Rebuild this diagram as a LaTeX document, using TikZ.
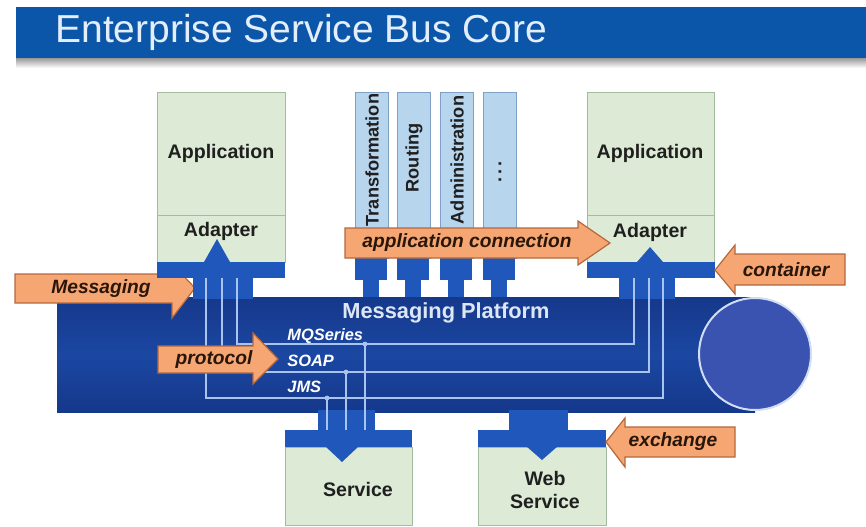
\documentclass[tikz,border=0pt]{standalone}
\usepackage{fontspec}
\setmainfont{Liberation Sans}
\usetikzlibrary{positioning,calc}
\definecolor{titleblue}{HTML}{0B56A8}
\definecolor{titletext}{HTML}{E4EEFA}
\definecolor{boxgreen}{HTML}{DDEBD6}
\definecolor{boxline}{HTML}{A4BBA0}
\definecolor{funcblue}{HTML}{B8D5EE}
\definecolor{funcline}{HTML}{7F9FC5}
\definecolor{barblue}{HTML}{1F58BA}
\definecolor{busdark}{HTML}{15388A}
\definecolor{buslight}{HTML}{1B47A2}
\definecolor{capblue}{HTML}{3B53B0}
\definecolor{capline}{HTML}{D0DDF5}
\definecolor{arrowfill}{HTML}{F5A673}
\definecolor{arrowline}{HTML}{B5683C}
\definecolor{arrowtext}{HTML}{2A1608}
\definecolor{protoline}{HTML}{A9C4EE}
\definecolor{bustext}{HTML}{DCE6F5}
\tikzset{
  greenbox/.style={draw=boxline,fill=boxgreen,line width=0.5pt},
  funcbox/.style={draw=funcline,fill=funcblue,line width=0.5pt},
  connbar/.style={fill=barblue},
  blockarrow/.style={draw=arrowline,fill=arrowfill,line width=0.6pt},
  boxlabel/.style={font=\fontsize{9.8}{11}\selectfont\bfseries,text=black!88},
  arrowlabel/.style={font=\fontsize{9.6}{11}\selectfont\bfseries\itshape,text=arrowtext},
  protolabel/.style={font=\fontsize{8.2}{9}\selectfont\bfseries\itshape,text=white,anchor=west,inner sep=0pt},
  protowire/.style={draw=protoline,line width=0.7pt},
}
\begin{document}
\begin{tikzpicture}[x=0.5pt,y=-0.5pt]
	\useasboundingbox (0,0) rectangle (866,526);
	\fill[white] (0,0) rectangle (866,526);
	\fill[titleblue] (16,7) rectangle (866,58);
	\shade[top color=black!40,bottom color=white] (16,58) rectangle (866,68);
	\node[anchor=base west,inner sep=0pt,text=titletext,font=\fontsize{19.5}{22}\selectfont] (title) at (55,42) {Enterprise Service Bus Core};

	\draw[greenbox] (157,92) rectangle (285,262);
	\draw[boxline,line width=0.5pt] (157,215) -- (285,215);
	\draw[greenbox] (587,92) rectangle (714,262);
	\draw[boxline,line width=0.5pt] (587,215) -- (714,215);

	\foreach \x/\name/\txt/\y in {355/tra/Transformation/160,397/rou/Routing/158,440/adm/Administration/160,483/etc/{.\,.\,.}/172} {
		\draw[funcbox] (\x,92) rectangle ++(33,166);
		\fill[connbar] (\x,255) rectangle ++(32,25);
		\fill[connbar] (\x+8,279) rectangle ++(16,21);
		\node[boxlabel,font=\fontsize{9.1}{11}\selectfont\bfseries,rotate=90] (\name) at (\x+17,\y) {\txt};
	}

	\shade[top color=busdark,bottom color=busdark,middle color=buslight] (57,297) rectangle (755,412);
	\draw[fill=capblue,draw=capline,line width=1pt] (755,354) circle[radius=56];

	\draw[blockarrow] (15,274) -- (172,274) -- (172,264) -- (195,288) -- (172,318) -- (172,303) -- (15,303) -- cycle;
	\node[arrowlabel] (msg) at (101,289) {Messaging};

	\fill[connbar] (193,277) rectangle (253,299);
	\fill[connbar] (619,277) rectangle (675,299);
	\fill[connbar] (318,410) rectangle (375,431);
	\fill[connbar] (509,410) rectangle (568,431);

	\coordinate (mqa) at (237,278);
	\coordinate (mqb) at (634,278);
	\coordinate (mqdot) at (365,344);
	\coordinate (soa) at (222,278);
	\coordinate (sob) at (649,278);
	\coordinate (soapdot) at (346,372);
	\coordinate (jma) at (206,278);
	\coordinate (jmb) at (663,278);
	\coordinate (jmsdot) at (327,398);
	\coordinate (svctop) at (346,431);
	\draw[protowire] (mqa) |- (mqdot) -| (mqb);
	\draw[protowire] (soa) |- (soapdot) -| (sob);
	\draw[protowire] (jma) |- (jmsdot) -| (jmb);
	\foreach \p in {mqdot,soapdot,jmsdot} {
		\draw[protowire] (\p) -- (\p |- svctop);
		\fill[protoline] (\p) circle[radius=2.4];
	}

	\fill[connbar] (157,262) rectangle (285,278);
	\fill[connbar] (587,262) rectangle (715,278);
	\fill[connbar] (204,262) -- (217,239) -- (230,262) -- cycle;
	\fill[connbar] (637,262) -- (650,247) -- (663,262) -- cycle;
	\node[boxlabel] (appl) at (221,153) {Application};
	\node[boxlabel] (adal) at (221,231) {Adapter};
	\node[boxlabel] (appr) at (650,153) {Application};
	\node[boxlabel] (adar) at (650,232) {Adapter};

	\fill[connbar] (285,430) rectangle (412,447);
	\fill[connbar] (478,430) rectangle (606,447);
	\draw[greenbox] (285,447) rectangle (412,525);
	\draw[greenbox] (478,447) rectangle (606,525);
	\fill[connbar] (325,446) -- (342,462) -- (359,446) -- cycle;
	\fill[connbar] (526,446) -- (542,460) -- (558,446) -- cycle;
	\node[boxlabel] (svc) at (358,489) {Service};
	\node[boxlabel,align=center,font=\fontsize{9.8}{11.5}\selectfont\bfseries] (websvc) at (545,490) {Web\\Service};

	\node[font=\fontsize{10.9}{13}\selectfont\bfseries,text=bustext] (mplat) at (446,313) {Messaging Platform};
	\node[protolabel] (mq) at (287,336) {MQSeries};
	\node[protolabel] (soap) at (287,361) {SOAP};
	\node[protolabel] (jms) at (287,387) {JMS};

	\draw[blockarrow] (345,228) -- (578,228) -- (578,221) -- (610,243) -- (578,265) -- (578,258) -- (345,258) -- cycle;
	\node[arrowlabel] (appconn) at (467,243) {application connection};
	\draw[blockarrow] (845,254) -- (735,254) -- (735,245) -- (715,270) -- (735,294) -- (735,285) -- (845,285) -- cycle;
	\node[arrowlabel] (cont) at (786,270) {container};
	\draw[blockarrow] (735,427) -- (625,427) -- (625,418) -- (606,442) -- (625,467) -- (625,457) -- (735,457) -- cycle;
	\node[arrowlabel] (exch) at (673,442) {exchange};
	\draw[blockarrow] (158,346) -- (253,346) -- (253,333) -- (278,359) -- (253,384) -- (253,373) -- (158,373) -- cycle;
	\node[arrowlabel] (proto) at (214,360) {protocol};
\end{tikzpicture}
\end{document}
